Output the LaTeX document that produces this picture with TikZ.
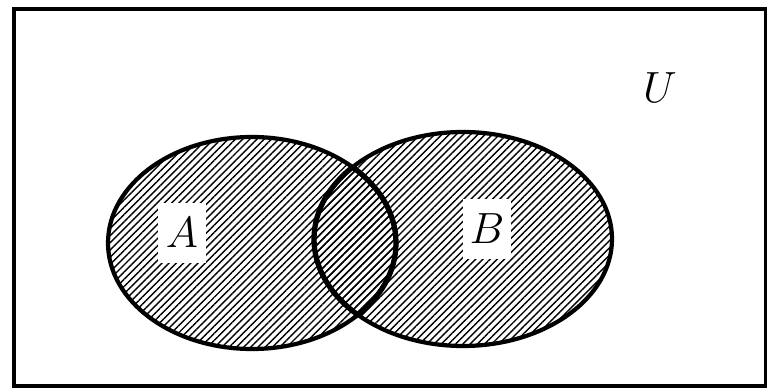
\documentclass[tikz,border=0pt]{standalone}
\usepackage{tikz}
\usetikzlibrary{patterns.meta}

\begin{document}
\begin{tikzpicture}[x=0.02cm, y=0.02cm,
  setline/.style={line width=2.4pt, black},
  hatch/.style={pattern={Lines[angle=45, distance=2.9pt, line width=0.8pt]}, pattern color=black},
  setlabel/.style={fill=white, inner sep=0pt, minimum width=0.95cm, minimum height=1.2cm, font=\fontsize{25}{25}\selectfont},
]
  \useasboundingbox (0,0) rectangle (767,389);

  % Universe
  \draw[line width=2.8pt] (14,3) rectangle (766,380);

  % Sets A and B, hatched
  \fill[hatch] (252,146) ellipse [x radius=144, y radius=106];
  \fill[hatch] (463,150) ellipse [x radius=149, y radius=107];
  \draw[setline] (252,146) ellipse [x radius=144, y radius=106];
  \draw[setline] (463,150) ellipse [x radius=149, y radius=107];

  % Intersection, heavier outline
  \begin{scope}
    \clip (252,146) ellipse [x radius=144, y radius=106];
    \draw[line width=3pt] (463,150) ellipse [x radius=149, y radius=107];
  \end{scope}
  \begin{scope}
    \clip (463,150) ellipse [x radius=149, y radius=107];
    \draw[line width=3pt] (252,146) ellipse [x radius=144, y radius=106];
  \end{scope}

  % Labels
  \node[setlabel] (labA) at (182,156) {$A$};
  \node[setlabel] (labB) at (487,160) {$B$};
  \node[font=\fontsize{25}{25}\selectfont] (labU) at (660,301) {$U$};
\end{tikzpicture}
\end{document}
